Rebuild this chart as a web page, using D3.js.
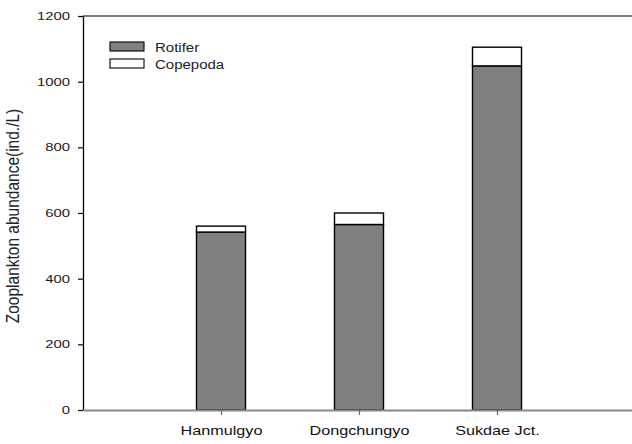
<!DOCTYPE html>
<html>
<head>
<meta charset="utf-8">
<script src="https://cdn.jsdelivr.net/npm/d3@7"></script>
<style>
  html, body { margin: 0; padding: 0; background: #fff; }
  svg { display: block; font-family: "Liberation Sans", Arial, sans-serif; }
</style>
</head>
<body>
<svg id="chart" width="632" height="444"></svg>
<script>
// Sampling sites along the x axis
const sites = ["Hanmulgyo", "Dongchungyo", "Sukdae Jct."];
// Abundance per group (ind./L)
const rotifer = [542, 565, 1048];
const copepoda = [18, 35, 57];
const seriesNames = ["Rotifer", "Copepoda"];
const yTicks = [0, 200, 400, 600, 800, 1000, 1200];

(function draw() {
  const svg = d3.select("#chart");
  const mLeft = 83, mRight = 635, mTop = 16, mBottom = 410;
  const stretch = 1.35; // wide lettering

  const x = d3.scaleLinear().domain([0, sites.length + 1]).range([mLeft, mRight]);
  const y = d3.scaleLinear().domain([0, 1200]).range([mBottom, mTop]);
  const barW = 49;
  const fills = { Rotifer: "#808080", Copepoda: "#ffffff" };

  const rows = sites.map((s, i) => ({ site: s, Rotifer: rotifer[i], Copepoda: copepoda[i] }));
  const stacked = d3.stack().keys(seriesNames)(rows);

  // Top frame line
  svg.append("line")
    .attr("x1", mLeft).attr("x2", 632).attr("y1", mTop).attr("y2", mTop)
    .attr("stroke", "#000").attr("stroke-width", 1.2);

  // Stacked bars
  stacked.forEach(layer => {
    svg.append("g").selectAll("rect").data(layer).join("rect")
      .attr("x", (d, i) => x(i + 1) - barW / 2)
      .attr("width", barW)
      .attr("y", d => y(d[1]))
      .attr("height", d => y(d[0]) - y(d[1]))
      .attr("fill", fills[layer.key])
      .attr("stroke", "#000")
      .attr("stroke-width", 1.4);
  });

  // Y axis
  const yAxis = svg.append("g")
    .attr("transform", `translate(${mLeft},0)`)
    .call(d3.axisLeft(y).tickValues(yTicks).tickFormat(d3.format("d"))
      .tickSize(5).tickPadding(8).tickSizeOuter(0));
  yAxis.select(".domain").attr("stroke", "#000").attr("stroke-width", 1.3);
  yAxis.selectAll(".tick line").attr("stroke", "#000").attr("stroke-width", 1.2);
  yAxis.selectAll("text")
    .attr("font-size", 11).attr("fill", "#222")
    .attr("font-family", "Liberation Sans, Arial, sans-serif")
    .attr("x", -13 / stretch)
    .attr("transform", `scale(${stretch},1)`);

  // X axis
  const xAxis = svg.append("g")
    .attr("transform", `translate(0,${mBottom})`)
    .call(d3.axisBottom(x).tickValues([1, 2, 3]).tickFormat(d => sites[d - 1])
      .tickSize(5).tickPadding(11).tickSizeOuter(0));
  xAxis.select(".domain").attr("stroke", "#8a8a8a").attr("stroke-width", 2.2);
  xAxis.selectAll(".tick line").attr("stroke", "#666").attr("stroke-width", 1.2);
  xAxis.selectAll("text")
    .attr("font-size", 12).attr("fill", "#111")
    .attr("font-family", "Liberation Sans, Arial, sans-serif")
    .attr("transform", `scale(${stretch},1)`);

  // Y axis title
  svg.append("text")
    .attr("transform", `translate(18.5,216) scale(1.2,1) rotate(-90)`)
    .attr("text-anchor", "middle")
    .attr("font-size", 15.5)
    .attr("fill", "#222")
    .text("Zooplankton abundance(ind./L)");

  // Legend
  const legendStretch = 1.25;
  const legend = svg.append("g").attr("transform", "translate(110,42)");
  seriesNames.forEach((name, i) => {
    const g = legend.append("g").attr("transform", `translate(0,${i * 17})`);
    g.append("rect").attr("width", 34).attr("height", 9)
      .attr("fill", fills[name]).attr("stroke", "#000").attr("stroke-width", 1.1);
    g.append("text").attr("x", 45 / legendStretch).attr("y", 9.5)
      .attr("transform", `scale(${legendStretch},1)`)
      .attr("font-size", 12).attr("fill", "#222").text(name);
  });
})();
</script>
</body>
</html>
